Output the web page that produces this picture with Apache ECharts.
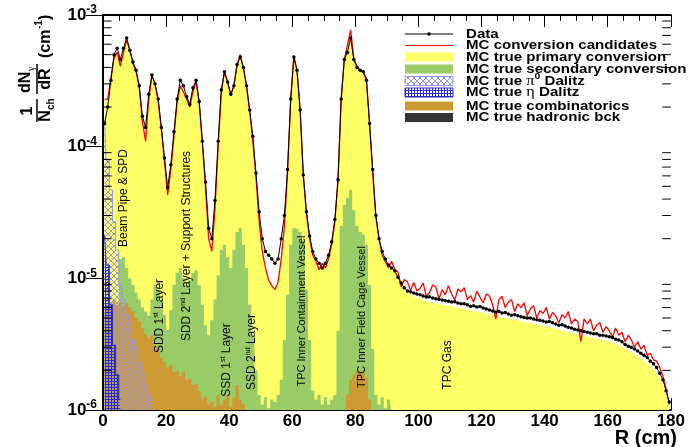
<!DOCTYPE html>
<html>
<head>
<meta charset="utf-8">
<script src="https://cdn.jsdelivr.net/npm/echarts@6/dist/echarts.min.js"></script>
<style>
html,body{margin:0;padding:0;background:#fff;}
#chart{width:688px;height:447px;}
</style>
</head>
<body>
<div id="chart"></div>
<script>
// Photon conversion radial distribution, 1 cm bins from R = 0 to 180 cm.
const BIN_WIDTH = 1;

const dataVals = [
  1.5e-4, 2.0e-4, 3.2e-4, 5.0e-4, 5.6e-4, 4.6e-4, 5.6e-4, 6.7e-4, 5.4e-4, 4.4e-4,
  3.8e-4, 2.9e-4, 1.7e-4, 1.4e-4, 2.5e-4, 3.5e-4, 3.0e-4, 2.3e-4, 1.4e-4, 8.2e-5,
  4.9e-5, 7.3e-5, 1.3e-4, 2.3e-4, 3.2e-4, 2.9e-4, 2.4e-4, 2.1e-4, 2.8e-4, 3.2e-4,
  2.2e-4, 1.1e-4, 5.4e-5, 2.4e-5, 2.0e-5, 3.9e-5, 1.1e-4, 2.7e-4, 3.7e-4, 3.1e-4,
  2.5e-4, 2.9e-4, 4.2e-4, 4.8e-4, 4.0e-4, 2.9e-4, 1.9e-4, 1.2e-4, 6.3e-5, 3.2e-5,
  2.0e-5, 1.6e-5, 1.5e-5, 1.4e-5, 1.3e-5, 1.4e-5, 2.0e-5, 3.0e-5, 6.7e-5, 2.3e-4,
  4.8e-4, 3.8e-4, 1.9e-4, 6.1e-5, 3.2e-5, 2.1e-5, 1.6e-5, 1.4e-5, 1.3e-5, 1.2e-5,
  1.3e-5, 1.5e-5, 1.9e-5, 2.8e-5, 5.6e-5, 2.3e-4, 4.6e-4, 5.2e-4, 6.7e-4, 4.6e-4,
  4.0e-4, 3.8e-4, 3.7e-4, 3.2e-4, 1.5e-4, 6.7e-5, 3.0e-5, 2.0e-5, 1.6e-5, 1.4e-5,
  1.26e-5, 1.2e-5, 1.14e-5, 1.02e-5, 9.2e-6, 8.5e-6, 8.0e-6, 7.9e-6, 7.75e-6, 7.6e-6,
  7.5e-6, 7.35e-6, 7.2e-6, 7.25e-6, 7.1e-6, 7.0e-6, 6.95e-6, 6.85e-6, 6.75e-6, 6.7e-6,
  6.6e-6, 6.65e-6, 6.5e-6, 6.4e-6, 6.4e-6, 6.3e-6, 6.15e-6, 6.2e-6, 6.05e-6, 6.1e-6,
  5.95e-6, 5.85e-6, 5.75e-6, 5.65e-6, 5.55e-6, 5.6e-6, 5.45e-6, 5.5e-6, 5.35e-6, 5.25e-6,
  5.3e-6, 5.2e-6, 5.1e-6, 5.05e-6, 5.0e-6, 5.0e-6, 4.9e-6, 4.85e-6, 4.8e-6, 4.75e-6,
  4.65e-6, 4.7e-6, 4.6e-6, 4.5e-6, 4.4e-6, 4.45e-6, 4.35e-6, 4.25e-6, 4.2e-6, 4.1e-6,
  4.05e-6, 4.0e-6, 3.95e-6, 3.9e-6, 3.85e-6, 3.8e-6, 3.8e-6, 3.7e-6, 3.7e-6, 3.65e-6,
  3.6e-6, 3.55e-6, 3.45e-6, 3.4e-6, 3.3e-6, 3.15e-6, 3.05e-6, 3.0e-6, 2.9e-6, 2.8e-6,
  2.7e-6, 2.6e-6, 2.5e-6, 2.35e-6, 2.25e-6, 2.1e-6, 1.9e-6, 1.7e-6, 1.4e-6, 1.15e-6
];

const mcCandidateVals = [
  2.3e-4, 2.3e-4, 3.3e-4, 4.7e-4, 5.2e-4, 4.1e-4, 5.2e-4, 6.5e-4, 5.4e-4, 4.3e-4,
  3.7e-4, 2.8e-4, 1.55e-4, 1.1e-4, 2.3e-4, 3.45e-4, 3.0e-4, 2.2e-4, 1.35e-4, 7.7e-5,
  4.3e-5, 6.7e-5, 1.2e-4, 2.2e-4, 2.9e-4, 2.6e-4, 2.3e-4, 2.0e-4, 2.6e-4, 3.15e-4,
  2.15e-4, 1.07e-4, 4.9e-5, 2.0e-5, 1.6e-5, 3.4e-5, 1.0e-4, 2.6e-4, 3.7e-4, 3.1e-4,
  2.45e-4, 2.9e-4, 4.2e-4, 5.0e-4, 4.0e-4, 2.9e-4, 1.85e-4, 1.1e-4, 5.8e-5, 2.7e-5,
  1.6e-5, 1.2e-5, 9.7e-6, 8.8e-6, 8.2e-6, 9.4e-6, 1.4e-5, 2.5e-5, 6.4e-5, 2.3e-4,
  4.9e-4, 3.8e-4, 1.9e-4, 6.0e-5, 3.1e-5, 2.0e-5, 1.5e-5, 1.35e-5, 1.16e-5, 1.3e-5,
  1.2e-5, 1.4e-5, 1.8e-5, 2.7e-5, 5.6e-5, 2.3e-4, 4.6e-4, 5.9e-4, 7.7e-4, 4.7e-4,
  4.1e-4, 3.8e-4, 3.7e-4, 3.3e-4, 1.5e-4, 6.4e-5, 2.9e-5, 2.0e-5, 1.5e-5, 1.35e-5,
  1.2e-5, 1.35e-5, 1.16e-5, 1.12e-5, 8.6e-6, 9.8e-6, 9.4e-6, 8.1e-6, 9.3e-6, 8.0e-6,
  8.4e-6, 9.2e-6, 7.3e-6, 7.8e-6, 8.9e-6, 8.6e-6, 7.0e-6, 8.2e-6, 7.5e-6, 8.8e-6,
  7.6e-6, 6.8e-6, 8.3e-6, 7.9e-6, 8.5e-6, 6.9e-6, 7.4e-6, 6.6e-6, 8.0e-6, 7.2e-6,
  6.5e-6, 7.6e-6, 7.3e-6, 6.3e-6, 4.9e-6, 6.9e-6, 7.3e-6, 6.0e-6, 6.6e-6, 6.9e-6,
  5.6e-6, 6.4e-6, 6.0e-6, 6.5e-6, 5.2e-6, 5.9e-6, 6.2e-6, 5.0e-6, 5.7e-6, 5.4e-6,
  6.0e-6, 4.9e-6, 5.5e-6, 5.2e-6, 4.6e-6, 5.3e-6, 5.0e-6, 5.6e-6, 4.5e-6, 4.9e-6,
  4.7e-6, 3.3e-6, 4.9e-6, 4.5e-6, 4.9e-6, 4.0e-6, 4.4e-6, 4.6e-6, 3.9e-6, 4.3e-6,
  4.0e-6, 3.6e-6, 4.2e-6, 3.7e-6, 3.9e-6, 3.3e-6, 3.7e-6, 3.4e-6, 3.0e-6, 3.3e-6,
  2.9e-6, 3.1e-6, 2.6e-6, 2.7e-6, 2.4e-6, 2.35e-6, 2.1e-6, 1.8e-6, 1.45e-6, 1.1e-6
];

// Stacked MC total, top of the primary-conversion fill
const primaryVals = [
  2.3e-4, 2.3e-4, 3.3e-4, 4.7e-4, 5.2e-4, 4.1e-4, 5.2e-4, 6.5e-4, 5.4e-4, 4.3e-4,
  3.7e-4, 2.8e-4, 1.55e-4, 1.1e-4, 2.3e-4, 3.45e-4, 3.0e-4, 2.2e-4, 1.35e-4, 7.7e-5,
  4.3e-5, 6.7e-5, 1.2e-4, 2.2e-4, 2.9e-4, 2.6e-4, 2.3e-4, 2.0e-4, 2.6e-4, 3.15e-4,
  2.15e-4, 1.07e-4, 4.9e-5, 2.0e-5, 1.6e-5, 3.4e-5, 1.0e-4, 2.6e-4, 3.7e-4, 3.1e-4,
  2.45e-4, 2.9e-4, 4.2e-4, 5.0e-4, 4.0e-4, 2.9e-4, 1.85e-4, 1.1e-4, 5.8e-5, 2.7e-5,
  1.6e-5, 1.2e-5, 9.7e-6, 8.8e-6, 8.2e-6, 9.4e-6, 1.4e-5, 2.5e-5, 6.4e-5, 2.3e-4,
  4.9e-4, 3.8e-4, 1.9e-4, 6.0e-5, 3.1e-5, 2.0e-5, 1.5e-5, 1.35e-5, 1.2e-5, 1.25e-5,
  1.25e-5, 1.4e-5, 1.8e-5, 2.7e-5, 5.6e-5, 2.3e-4, 4.6e-4, 5.9e-4, 7.7e-4, 4.7e-4,
  4.1e-4, 3.8e-4, 3.7e-4, 3.3e-4, 1.5e-4, 6.4e-5, 2.9e-5, 2.0e-5, 1.5e-5, 1.35e-5,
  1.25e-5, 1.2e-5, 1.15e-5, 1.08e-5, 9.0e-6, 8.3e-6, 7.8e-6, 7.5e-6, 7.3e-6, 7.1e-6,
  7.0e-6, 6.85e-6, 6.7e-6, 6.6e-6, 6.5e-6, 6.45e-6, 6.4e-6, 6.3e-6, 6.25e-6, 6.2e-6,
  6.1e-6, 6.05e-6, 6.0e-6, 5.9e-6, 5.85e-6, 5.8e-6, 5.7e-6, 5.65e-6, 5.6e-6, 5.55e-6,
  5.5e-6, 5.4e-6, 5.3e-6, 5.25e-6, 5.15e-6, 5.1e-6, 5.05e-6, 5.0e-6, 4.95e-6, 4.9e-6,
  4.85e-6, 4.8e-6, 4.7e-6, 4.65e-6, 4.6e-6, 4.55e-6, 4.5e-6, 4.45e-6, 4.4e-6, 4.35e-6,
  4.3e-6, 4.25e-6, 4.2e-6, 4.15e-6, 4.05e-6, 4.0e-6, 3.95e-6, 3.9e-6, 3.85e-6, 3.8e-6,
  3.75e-6, 3.7e-6, 3.65e-6, 3.6e-6, 3.55e-6, 3.5e-6, 3.45e-6, 3.4e-6, 3.4e-6, 3.35e-6,
  3.3e-6, 3.25e-6, 3.2e-6, 3.1e-6, 3.0e-6, 2.95e-6, 2.85e-6, 2.75e-6, 2.65e-6, 2.55e-6,
  2.45e-6, 2.35e-6, 2.25e-6, 2.15e-6, 2.05e-6, 1.9e-6, 1.75e-6, 1.55e-6, 1.3e-6, 1.05e-6
];

// Secondary conversions, R = 0 .. 92 cm
const secondaryVals = [
  4.5e-6, 5.0e-6, 5.0e-6, 5.5e-6, 6.0e-6, 1.4e-5, 1.45e-5, 1.2e-5, 1.0e-5, 8.9e-6,
  7.8e-6, 6.9e-6, 6.0e-6, 5.6e-6, 5.2e-6, 6.9e-6, 8.9e-6, 8.2e-6, 6.9e-6, 5.3e-6,
  4.05e-6, 5.75e-6, 8.9e-6, 1.1e-5, 1.2e-5, 1.0e-5, 8.9e-6, 9.7e-6, 1.1e-5, 1.15e-5,
  8.9e-6, 6.3e-6, 4.4e-6, 3.7e-6, 4.8e-6, 6.9e-6, 1.05e-5, 1.65e-5, 1.8e-5, 1.45e-5,
  1.2e-5, 1.65e-5, 2.25e-5, 2.4e-5, 1.8e-5, 1.2e-5, 6.3e-6, 3.7e-6, 2.0e-6, 1.3e-6,
  1.1e-6, 1.25e-6, 1.03e-6, 1.2e-6, 1.15e-6, 1.3e-6, 1.7e-6, 3.4e-6, 7.5e-6, 1.8e-5,
  2.4e-5, 2.35e-5, 2.25e-5, 1.95e-5, 8.2e-6, 3.4e-6, 1.4e-6, 1.2e-6, 1.3e-6, 1.1e-6,
  1.25e-6, 1.1e-6, 1.2e-6, 1.3e-6, 4.0e-6, 2.5e-5, 3.6e-5, 4.1e-5, 4.7e-5, 3.3e-5,
  2.5e-5, 2.25e-5, 2.15e-5, 1.8e-5, 8.9e-6, 2.9e-6, 1.3e-6, 1.1e-6, 1.25e-6, 1.03e-6,
  1.2e-6, 1.1e-6
];

// Combinatorial background, R = 0 .. 86 cm
const combinatoricsVals = [
  5.75e-6, 6.3e-6, 6.3e-6, 6.9e-6, 6.3e-6, 6.6e-6, 6.2e-6, 6.5e-6, 6.0e-6, 5.6e-6,
  5.0e-6, 4.7e-6, 4.2e-6, 3.8e-6, 3.5e-6, 3.7e-6, 3.1e-6, 2.9e-6, 2.5e-6, 2.3e-6,
  2.1e-6, 2.2e-6, 1.95e-6, 2.0e-6, 1.8e-6, 1.95e-6, 1.7e-6, 1.75e-6, 1.55e-6, 1.6e-6,
  1.4e-6, 1.2e-6, 1.25e-6, 1.1e-6, 1.15e-6, 1.05e-6, 1.3e-6, 1.1e-6, 1.2e-6, 1.3e-6,
  1.05e-6, 1.25e-6, 1.55e-6, 1.2e-6, 1.1e-6, null, null, null, null, null,
  null, null, null, null, null, null, null, null, null, null,
  null, null, null, null, null, null, null, null, null, null,
  null, null, null, null, null, null, null, 1.3e-6, 1.7e-6, 1.85e-6,
  1.95e-6, 2.0e-6, 1.9e-6, 1.75e-6, 1.2e-6, null
];

// Dalitz decays, R = 0 .. 16 cm and R = 0 .. 6 cm
const pi0DalitzVals = [
  1.6e-4, 7.9e-5, 4.7e-5, 2.7e-5, 1.64e-5, 8.9e-6, 6.9e-6, 5.3e-6, 4.05e-6, 3.4e-6,
  2.9e-6, 2.3e-6, 1.95e-6, 1.55e-6, 1.3e-6, 1.1e-6
];
const etaDalitzVals = [2.14e-5, 1.26e-5, 6.3e-6, 3.1e-6, 1.85e-6, 1.2e-6];

const xTickStep = 20;
const yMinorTicks = [
  2e-6, 3e-6, 4e-6, 5e-6, 6e-6, 7e-6, 8e-6, 9e-6,
  2e-5, 3e-5, 4e-5, 5e-5, 6e-5, 7e-5, 8e-5, 9e-5,
  2e-4, 3e-4, 4e-4, 5e-4, 6e-4, 7e-4, 8e-4, 9e-4
];

const FONT = '"Liberation Sans", Arial, Helvetica, sans-serif';
const SERIF = '"Liberation Serif", "Times New Roman", serif';

const COL_YELLOW = '#ffff66';
const COL_GREEN = '#99cc66';
const COL_BROWN = '#cc9933';
const COL_PI0 = '#9494f2';
const COL_ETA = '#2a2ac8';
const COL_HADR = '#333333';

function makePattern(size, color, draw) {
  const c = document.createElement('canvas');
  c.width = size; c.height = size;
  const g = c.getContext('2d');
  g.strokeStyle = color;
  g.lineWidth = 1;
  draw(g, size);
  return c;
}
const pi0Pattern = makePattern(6, COL_PI0, (g, s) => {
  g.beginPath();
  g.moveTo(0, 0); g.lineTo(s, s);
  g.moveTo(s, 0); g.lineTo(0, s);
  g.stroke();
});
const etaPattern = makePattern(3, COL_ETA, (g, s) => {
  g.beginPath();
  g.moveTo(0.5, 0); g.lineTo(0.5, s);
  g.moveTo(0, 0.5); g.lineTo(s, 0.5);
  g.stroke();
});

const toPairs = vals => vals.map((v, i) => [(i + 0.5) * BIN_WIDTH, v]);

function histArea(name, vals, fill, z, edgeColor, step) {
  return {
    name, type: 'line', step: step === false ? false : 'middle', symbol: 'none', z,
    data: toPairs(vals),
    lineStyle: { width: edgeColor ? 1 : 0, color: edgeColor || COL_YELLOW },
    areaStyle: { color: fill, opacity: 1, origin: 1e-6 },
    silent: true
  };
}

const chart = echarts.init(document.getElementById('chart'), null, { renderer: 'canvas' });

const xAxisBase = {
  type: 'value', min: 0, max: 180, interval: xTickStep,
  axisLine: { show: true, lineStyle: { color: '#000', width: 2 } },
  axisTick: { show: true, inside: true, length: 12, lineStyle: { color: '#000', width: 1 } },
  minorTick: { show: true, splitNumber: 4, length: 6, lineStyle: { color: '#000', width: 1 } },
  splitLine: { show: false },
  minorSplitLine: { show: false }
};
const yAxisBase = {
  type: 'log', logBase: 10, min: 1e-6, max: 1e-3,
  axisLine: { show: true, lineStyle: { color: '#000', width: 2 } },
  axisTick: { show: true, inside: true, length: 17, lineStyle: { color: '#000', width: 1 } },
  minorTick: { show: false },
  splitLine: { show: false }
};

const yTitle = {
  type: 'group', x: 0, y: 122, rotation: Math.PI / 2, z: 100,
  children: [
    { type: 'text', x: 11, y: 28, style: { text: '1', font: 'bold 16px ' + FONT, fill: '#000', align: 'center', verticalAlign: 'middle' } },
    { type: 'line', shape: { x1: 0, y1: 37, x2: 23, y2: 37 }, style: { stroke: '#000', lineWidth: 1.5 } },
    { type: 'text', x: 6, y: 46, style: { text: 'N', font: 'bold 16px ' + FONT, fill: '#000', align: 'center', verticalAlign: 'middle' } },
    { type: 'text', x: 12, y: 51, style: { text: 'ch', font: 'bold 10px ' + FONT, fill: '#000', align: 'left', verticalAlign: 'middle' } },
    { type: 'text', x: 29, y: 26, style: { text: 'dN', font: 'bold 16px ' + FONT, fill: '#000', align: 'left', verticalAlign: 'middle' } },
    { type: 'text', x: 51, y: 31, style: { text: 'γ', font: '10px ' + SERIF, fill: '#000', align: 'left', verticalAlign: 'middle' } },
    { type: 'line', shape: { x1: 28, y1: 37, x2: 58, y2: 37 }, style: { stroke: '#000', lineWidth: 1.5 } },
    { type: 'text', x: 43, y: 46, style: { text: 'dR', font: 'bold 16px ' + FONT, fill: '#000', align: 'center', verticalAlign: 'middle' } },
    { type: 'text', x: 64, y: 46, style: { text: '(cm', font: 'bold 16px ' + FONT, fill: '#000', align: 'left', verticalAlign: 'middle' } },
    { type: 'text', x: 93, y: 39, style: { text: '-1', font: 'bold 10px ' + FONT, fill: '#000', align: 'left', verticalAlign: 'middle' } },
    { type: 'text', x: 102, y: 46, style: { text: ')', font: 'bold 16px ' + FONT, fill: '#000', align: 'left', verticalAlign: 'middle' } }
  ]
};

function annotation(x, y, text, size) {
  return {
    type: 'text', x, y, rotation: Math.PI / 2, z: 100,
    style: {
      text, align: 'center', verticalAlign: 'middle', fill: '#000',
      font: size + 'px ' + FONT,
      rich: {
        n: { fontSize: size, fontFamily: FONT, fill: '#000' },
        s: { fontSize: Math.round(size * 0.62), fontFamily: FONT, fill: '#000', padding: [0, 0, 8, 0] }
      }
    }
  };
}

// Legend rows
const LEG_X = 405, LEG_W = 48, LEG_TX = 466;
const legendRows = [
  { y: 34, kind: 'marker', text: '{t|Data}' },
  { y: 45.5, kind: 'line', color: '#ff0000', text: '{t|MC conversion candidates}' },
  { y: 57, kind: 'box', fill: COL_YELLOW, text: '{t|MC true primary conversion}' },
  { y: 69, kind: 'box', fill: COL_GREEN, text: '{t|MC true secondary conversion}' },
  { y: 81, kind: 'box', fill: { image: pi0Pattern, repeat: 'repeat' }, stroke: COL_PI0, text: '{t|MC true }{g|π}{s|0}{t| Dalitz}' },
  { y: 92.5, kind: 'box', fill: { image: etaPattern, repeat: 'repeat' }, stroke: COL_ETA, text: '{t|MC true }{g|η}{t| Dalitz}' },
  { y: 106, kind: 'box', fill: COL_BROWN, text: '{t|MC true combinatorics}' },
  { y: 117.5, kind: 'box', fill: COL_HADR, text: '{t|MC true hadronic bck}' }
];
const legendEls = [];
legendRows.forEach(r => {
  if (r.kind === 'marker') {
    legendEls.push({ type: 'line', z: 100, shape: { x1: LEG_X, y1: r.y, x2: LEG_X + LEG_W, y2: r.y }, style: { stroke: '#000', lineWidth: 1 } });
    legendEls.push({ type: 'circle', z: 100, shape: { cx: LEG_X + LEG_W / 2, cy: r.y, r: 1.8 }, style: { fill: '#000' } });
  } else if (r.kind === 'line') {
    legendEls.push({ type: 'line', z: 100, shape: { x1: LEG_X, y1: r.y, x2: LEG_X + LEG_W, y2: r.y }, style: { stroke: r.color, lineWidth: 1 } });
  } else {
    legendEls.push({ type: 'rect', z: 100, shape: { x: LEG_X, y: r.y - 4.5, width: LEG_W, height: 9 }, style: { fill: r.fill, stroke: r.stroke || null, lineWidth: 1 } });
  }
  legendEls.push({
    type: 'text', z: 100, x: LEG_TX, y: r.y, scaleX: 1.16,
    style: {
      text: r.text, align: 'left', verticalAlign: 'middle',
      rich: {
        t: { fontSize: 13, fontWeight: 'bold', fontFamily: FONT, fill: '#000' },
        g: { fontSize: 14, fontFamily: SERIF, fill: '#000' },
        s: { fontSize: 9, fontWeight: 'bold', fontFamily: FONT, fill: '#000', padding: [0, 0, 8, 0] }
      }
    }
  });
});

const option = {
  animation: false,
  backgroundColor: '#fff',
  grid: { left: 103, right: 11, top: 15, bottom: 37, containLabel: false },
  xAxis: [
    Object.assign({}, xAxisBase, {
      position: 'bottom',
      axisLabel: { show: true, margin: 3, color: '#000', fontSize: 17, fontWeight: 'bold', fontFamily: FONT }
    }),
    Object.assign({}, xAxisBase, { position: 'top', axisLabel: { show: false } })
  ],
  yAxis: [
    Object.assign({}, yAxisBase, {
      position: 'left',
      axisLabel: {
        show: true, margin: 6, color: '#000',
        formatter: v => '{b|10}{s|' + Math.round(Math.log10(v)) + '}',
        rich: {
          b: { fontSize: 17, fontWeight: 'bold', fontFamily: FONT, color: '#000' },
          s: { fontSize: 12, fontWeight: 'bold', fontFamily: FONT, color: '#000', padding: [0, 0, 10, 0] }
        }
      }
    }),
    Object.assign({}, yAxisBase, { position: 'right', axisLabel: { show: false } })
  ],
  series: [
    histArea('MC true primary conversion', primaryVals, COL_YELLOW, 1, null, false),
    histArea('MC true secondary conversion', secondaryVals, COL_GREEN, 2),
    histArea('MC true combinatorics', combinatoricsVals, COL_BROWN, 3),
    histArea('MC true pi0 Dalitz', pi0DalitzVals, { image: pi0Pattern, repeat: 'repeat' }, 4, COL_PI0),
    histArea('MC true eta Dalitz', etaDalitzVals, { image: etaPattern, repeat: 'repeat' }, 5, COL_ETA),
    {
      name: 'MC conversion candidates', type: 'line', symbol: 'none', z: 6,
      data: toPairs(mcCandidateVals),
      lineStyle: { color: '#ff0000', width: 1.3 }, silent: true
    },
    {
      name: 'Data', type: 'line', z: 7, symbol: 'circle', symbolSize: 3.5,
      data: toPairs(dataVals),
      itemStyle: { color: '#000' },
      lineStyle: { color: '#000', width: 1 }, silent: true
    },
    {
      name: 'log minor ticks', type: 'custom', z: 10, silent: true, clip: false,
      data: yMinorTicks.map(v => [0, v]),
      renderItem: (params, api) => {
        const v = api.value(1);
        const l = api.coord([0, v]);
        const r = api.coord([180, v]);
        return {
          type: 'group', children: [
            { type: 'line', shape: { x1: l[0], y1: l[1], x2: l[0] + 8.6, y2: l[1] }, style: { stroke: '#000', lineWidth: 1 } },
            { type: 'line', shape: { x1: r[0] - 8.6, y1: r[1], x2: r[0], y2: r[1] }, style: { stroke: '#000', lineWidth: 1 } }
          ]
        };
      }
    }
  ],
  graphic: [
    yTitle,
    {
      type: 'text', z: 100, x: 677, y: 438,
      style: { text: 'R (cm)', font: 'bold 20px ' + FONT, fill: '#000', align: 'right', verticalAlign: 'middle' }
    },
    annotation(124, 198, '{n|Beam Pipe & SPD}', 12),
    annotation(160, 316, '{n|SDD 1}{s|st}{n| Layer}', 12),
    annotation(187, 246, '{n|SDD 2}{s|nd}{n| Layer + Support Structures}', 12),
    annotation(227, 360, '{n|SSD 1}{s|st}{n| Layer}', 12),
    annotation(252, 352, '{n|SSD 2}{s|nd}{n| Layer}', 12),
    annotation(302, 311, '{n|TPC Inner Containment Vessel}', 11),
    annotation(362, 317, '{n|TPC Inner Field Cage Vessel}', 11),
    annotation(448, 365, '{n|TPC Gas}', 12)
  ].concat(legendEls)
};

chart.setOption(option);
</script>
</body>
</html>
